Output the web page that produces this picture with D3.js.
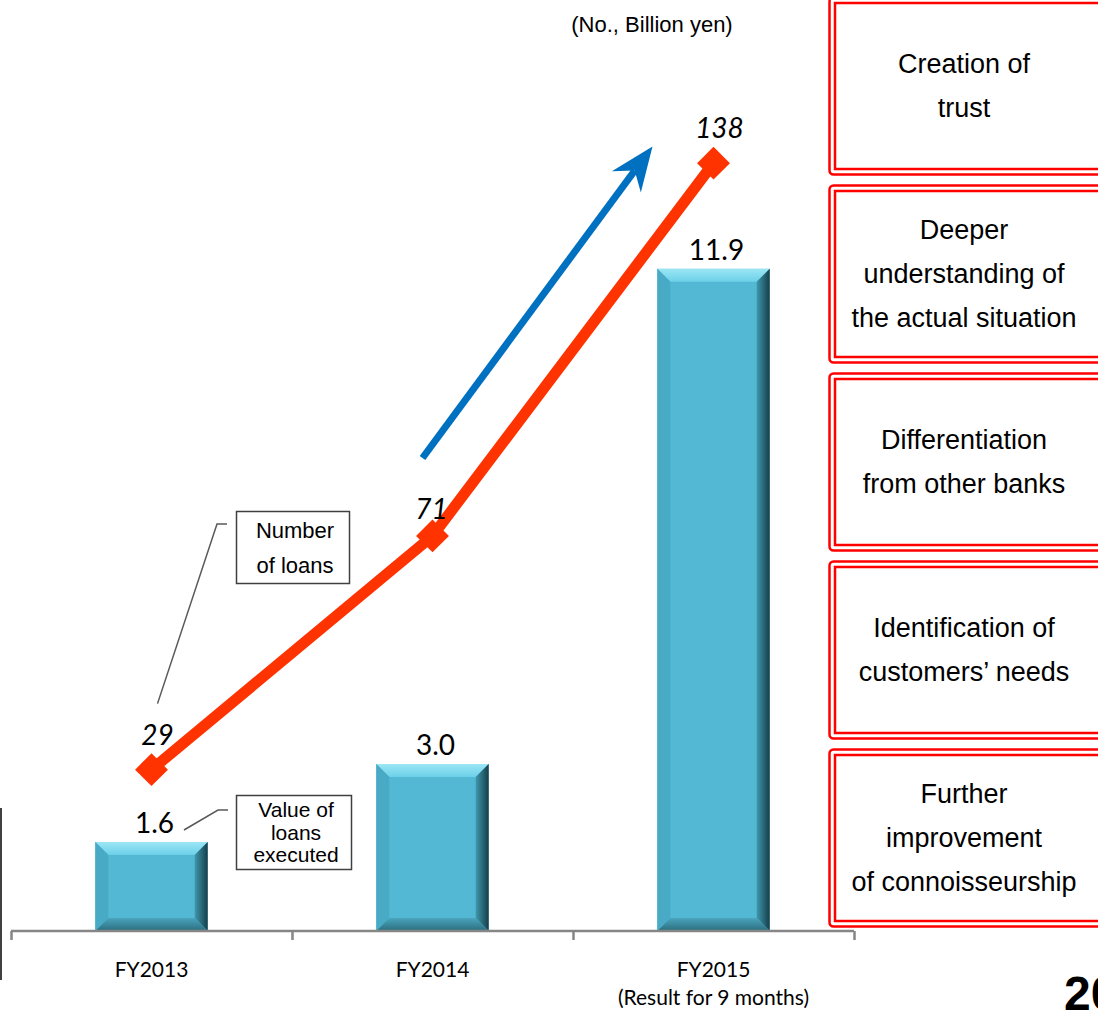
<!DOCTYPE html>
<html>
<head>
<meta charset="utf-8">
<script src="https://cdn.jsdelivr.net/npm/d3@7"></script>
<style>
  body { margin: 0; background: #fff; }
  svg { display: block; }
  .num { font-family: Lato, "Open Sans", sans-serif; fill: #000; }
  .lbl { font-family: "Liberation Sans", Arial, sans-serif; fill: #000; }
</style>
</head>
<body>
<div id="chart"></div>
<script>
// chart data
var categories = ["FY2013", "FY2014", "FY2015"];
var subLabels = ["", "", "(Result for 9 months)"];
var loanValues = [1.6, 3.0, 11.9];      // billion yen (bars)
var loanCounts = [29, 71, 138];         // number of loans (line)
var themes = [
    ["Creation of", "trust"],
    ["Deeper", "understanding of", "the actual situation"],
    ["Differentiation", "from other banks"],
    ["Identification of", "customers\u2019 needs"],
    ["Further", "improvement", "of connoisseurship"]
];

var W = 1098, H = 1010;
var baseY = 931, plotTop = 152;

var svg = d3.select("#chart").append("svg")
    .attr("width", W)
    .attr("height", H);

var defs = svg.append("defs");
var gR = defs.append("linearGradient").attr("id", "bevR").attr("x1", 0).attr("x2", 1).attr("y1", 0).attr("y2", 0);
gR.append("stop").attr("offset", "0%").attr("stop-color", "#3f97ad");
gR.append("stop").attr("offset", "100%").attr("stop-color", "#163e49");
var gB = defs.append("linearGradient").attr("id", "bevB").attr("x1", 0).attr("x2", 0).attr("y1", 0).attr("y2", 1);
gB.append("stop").attr("offset", "0%").attr("stop-color", "#4aa5bd");
gB.append("stop").attr("offset", "100%").attr("stop-color", "#2b6d7e");
var gT = defs.append("linearGradient").attr("id", "bevT").attr("x1", 0).attr("x2", 0).attr("y1", 0).attr("y2", 1);
gT.append("stop").attr("offset", "0%").attr("stop-color", "#9be6f5");
gT.append("stop").attr("offset", "100%").attr("stop-color", "#6cd0e8");

// scales
var x = d3.scaleBand().domain(categories).range([11, 854]).padding(0);
var xEdge = d3.scaleLinear().domain([0, categories.length]).range([11, 854]);
var y = d3.scaleLinear().domain([0, 14]).range([baseY, plotTop]);
var yL = d3.scaleLinear().domain([0, 140]).range([baseY, plotTop]);
var cx = function(i) { return x(categories[i]) + x.bandwidth() / 2; };

// right side theme boxes
var boxes = svg.append("g").selectAll("g.theme")
    .data(themes).enter().append("g")
    .attr("class", "theme")
    .attr("transform", function(d, i) { return "translate(829," + (-3 + 188 * i) + ")"; });
boxes.append("rect")
    .attr("x", 0.5).attr("y", 0.5)
    .attr("width", 300).attr("height", 177)
    .attr("rx", 4)
    .attr("fill", "#fff")
    .attr("stroke", "#ff0000")
    .attr("stroke-width", 2.5);
boxes.append("rect")
    .attr("x", 6).attr("y", 6)
    .attr("width", 300).attr("height", 166)
    .attr("fill", "none")
    .attr("stroke", "#ff0000")
    .attr("stroke-width", 2.5);
boxes.each(function(d, i) {
    var g = d3.select(this);
    var gap = 44;
    var y0 = 89 - (d.length - 1) * gap / 2;
    g.selectAll("text").data(d).enter().append("text")
        .attr("class", "lbl")
        .attr("x", 135)
        .attr("y", function(t, j) { return y0 + j * gap; })
        .attr("dy", "0.35em")
        .attr("text-anchor", "middle")
        .style("font-size", "27px")
        .text(function(t) { return t; });
});

// unit label
svg.append("text")
    .attr("class", "lbl")
    .attr("x", 652).attr("y", 32)
    .attr("text-anchor", "middle")
    .style("font-size", "22px")
    .text("(No., Billion yen)");

// bars with bevel
var bw = x.bandwidth() * 0.4;
var bev = 13;
var bar = svg.append("g").selectAll("g.bar")
    .data(loanValues).enter().append("g")
    .attr("class", "bar")
    .attr("transform", function(d, i) { return "translate(" + (cx(i) - bw / 2) + "," + y(d) + ")"; });
bar.append("rect")
    .attr("width", bw)
    .attr("height", function(d) { return baseY - y(d); })
    .attr("fill", "#52b8d4");
bar.append("path")
    .attr("fill", "url(#bevT)")
    .attr("d", function() { return "M0,0H" + bw + "L" + (bw - bev) + "," + bev + "H" + bev + "Z"; });
bar.append("path")
    .attr("fill", "#48aac5")
    .attr("d", function(d) { var h = baseY - y(d); return "M0,0L" + bev + "," + bev + "V" + (h - bev) + "L0," + h + "Z"; });
bar.append("path")
    .attr("fill", "url(#bevR)")
    .attr("d", function(d) { var h = baseY - y(d); return "M" + bw + ",0L" + (bw - bev) + "," + bev + "V" + (h - bev) + "L" + bw + "," + h + "Z"; });
bar.append("path")
    .attr("fill", "url(#bevB)")
    .attr("d", function(d) { var h = baseY - y(d); return "M0," + h + "L" + bev + "," + (h - bev) + "H" + (bw - bev) + "L" + bw + "," + h + "Z"; });
bar.append("text")
    .attr("class", "num")
    .attr("x", bw / 2 + 3)
    .attr("y", -9)
    .attr("text-anchor", "middle")
    .style("font-size", "28px")
    .text(function(d) { return d.toFixed(1); });

// axis
var axisG = svg.append("g").attr("transform", "translate(0," + baseY + ")");
axisG.call(d3.axisBottom(xEdge).tickValues(d3.range(categories.length + 1)).tickFormat("").tickSize(9));
axisG.selectAll("path, line").attr("stroke", "#868686").attr("stroke-width", 2.5);
axisG.select(".domain").attr("d", "M11,0H854");

var labG = svg.append("g").attr("transform", "translate(0," + baseY + ")");
labG.call(d3.axisBottom(x).tickSize(0).tickPadding(0));
labG.select(".domain").remove();
labG.selectAll(".tick text").remove();
labG.selectAll(".tick").each(function(c, i) {
    var t = d3.select(this).append("text")
        .attr("class", "num")
        .attr("text-anchor", "middle")
        .style("font-size", "21px");
    t.append("tspan").attr("x", 0).attr("y", 46).text(c);
    if (subLabels[i]) t.append("tspan").attr("x", 0).attr("y", 74).text(subLabels[i]);
});

// blue trend arrow
var a0 = [cx(1) - 10, yL(85)], a1 = [cx(2) - 61, yL(141)];
var dx = a1[0] - a0[0], dy = a1[1] - a0[1], len = Math.sqrt(dx * dx + dy * dy);
var ux = dx / len, uy = dy / len, nx = -uy, ny = ux;
var notch = [a1[0] - 30 * ux, a1[1] - 30 * uy];
svg.append("line")
    .attr("x1", a0[0]).attr("y1", a0[1])
    .attr("x2", notch[0]).attr("y2", notch[1])
    .attr("stroke", "#0070c0")
    .attr("stroke-width", 7);
svg.append("path")
    .attr("fill", "#0070c0")
    .attr("d", "M" + a1 + "L" + [a1[0] - 44 * ux + 18 * nx, a1[1] - 44 * uy + 18 * ny] +
        "L" + notch + "L" + [a1[0] - 44 * ux - 18 * nx, a1[1] - 44 * uy - 18 * ny] + "Z");

// number of loans line
var line = d3.line()
    .x(function(d, i) { return cx(i); })
    .y(function(d) { return yL(d); });
svg.append("path")
    .datum(loanCounts)
    .attr("fill", "none")
    .attr("stroke", "#ff3300")
    .attr("stroke-width", 11)
    .attr("d", line);
svg.append("g").selectAll("path")
    .data(loanCounts).enter().append("path")
    .attr("fill", "#ff3300")
    .attr("transform", function(d, i) { return "translate(" + cx(i) + "," + yL(d) + ") rotate(45)"; })
    .attr("d", d3.symbol().type(d3.symbolSquare).size(540));
svg.append("g").selectAll("text")
    .data(loanCounts).enter().append("text")
    .attr("class", "num")
    .attr("x", function(d, i) { return cx(i) + (i === 1 ? -1 : 6); })
    .attr("y", function(d, i) { return yL(d) - (i === 1 ? 17 : 25); })
    .attr("text-anchor", "middle")
    .style("font-size", "28px")
    .style("font-style", "italic")
    .text(function(d) { return d; });

// callouts
function callout(bx, by, bwid, bht, lines, fs, gap, leader) {
    svg.append("polyline")
        .attr("points", leader.join(" "))
        .attr("fill", "none")
        .attr("stroke", "#595959")
        .attr("stroke-width", 1.5);
    svg.append("rect")
        .attr("x", bx).attr("y", by)
        .attr("width", bwid).attr("height", bht)
        .attr("fill", "#fff")
        .attr("stroke", "#404040")
        .attr("stroke-width", 1.5);
    var y0 = by + bht / 2 - (lines.length - 1) * gap / 2;
    lines.forEach(function(t, j) {
        svg.append("text")
            .attr("class", "lbl")
            .attr("x", bx + bwid / 2 + 2)
            .attr("y", y0 + j * gap)
            .attr("dy", "0.35em")
            .attr("text-anchor", "middle")
            .style("font-size", fs + "px")
            .text(t);
    });
}
callout(236.5, 511.5, 113, 72, ["Number", " of loans"], 22, 35,
    [[cx(0) + 6, yL(29) - 66], [217, 524], [227, 524]]);
callout(236.5, 795.5, 115, 74, ["Value of", "loans", " executed"], 21, 22.5,
    [[184, 830], [218, 810], [228, 810]]);

// left edge rule and page number
svg.append("line")
    .attr("x1", 1).attr("x2", 1)
    .attr("y1", 808).attr("y2", 980)
    .attr("stroke", "#404040")
    .attr("stroke-width", 2);
svg.append("text")
    .attr("class", "lbl")
    .attr("x", 1064).attr("y", 1010)
    .style("font-size", "48px")
    .style("font-weight", "bold")
    .text("20");
</script>
</body>
</html>
